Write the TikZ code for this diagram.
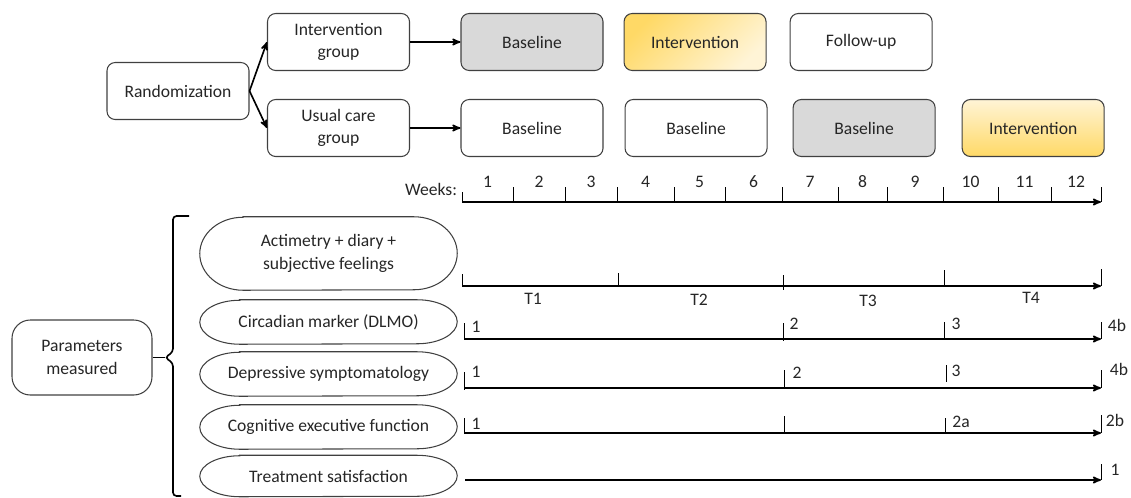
\documentclass[tikz,border=0pt]{standalone}
\usepackage{fontspec}
\setmainfont{Carlito}
\usetikzlibrary{positioning}
\usetikzlibrary{arrows}
\definecolor{boxgray}{HTML}{D9D9D9}
\definecolor{lineclr}{HTML}{404040}
\definecolor{txtclr}{HTML}{262626}
\definecolor{ydark}{HTML}{FFD966}
\definecolor{ylight}{HTML}{FFF4D6}

\begin{document}
\begin{tikzpicture}[x=0.03cm,y=-0.03cm,>=stealth',
                font=\fontsize{15}{19}\selectfont,text=txtclr,
                phase/.style={rectangle,rounded corners=7pt,draw=lineclr,line width=0.9pt,
                  minimum width=4.26cm,minimum height=1.71cm,inner sep=0pt,align=center},
                oval/.style={rectangle,minimum width=7.71cm,minimum height=1.32cm,inner sep=0pt,align=center},
                rim/.style={draw=lineclr,line width=0.9pt},
                param/.style={rectangle,rounded corners=0.55cm,draw=lineclr,line width=0.9pt,
                  minimum width=4.2cm,minimum height=2.25cm,align=center},
                flow/.style={->,line width=1.4pt},
                timeline/.style={->,line width=1.4pt},
                tickmark/.style={line width=0.7pt},
                lbl/.style={inner sep=0pt}]

  \useasboundingbox (0,0) rectangle (1131,497);

  % groups
  \node[phase] (rand) at (178,91) {Randomization};
  \node[phase] (igroup) at (338.5,42) {Intervention\\group};
  \node[phase] (ugroup) at (338.5,128) {Usual care\\group};

  % intervention group row
  \node[phase,fill=boxgray] (ibase) at (532,42) {Baseline};
  \node[phase,top color=ydark,bottom color=ylight,shading angle=45] (iint) [right=0.6cm of ibase] {Intervention};
  \node[phase] (ifollow) [right=0.69cm of iint] {Follow-up};

  % usual care row
  \node[phase] (ubase1) at (532,128) {Baseline};
  \node[phase] (ubase2) [right=0.63cm of ubase1] {Baseline};
  \node[phase,fill=boxgray] (ubase3) [right=0.75cm of ubase2] {Baseline};
  \node[phase,top color=ylight,bottom color=ydark] (uint) [right=0.78cm of ubase3] {Intervention};

  \path
    (rand.east) edge [flow] (igroup.west)
    (rand.east) edge [flow] (ugroup.west)
    (igroup) edge [flow] (ibase)
    (ugroup) edge [flow] (ubase1);

  % weeks
  \node[lbl] (weeks) at (431,189) {Weeks:};
  \coordinate (wstart) at (462,202);
  \coordinate (wend) at (1101,202);
  \draw[timeline] (wstart) -- (wend);
  \draw[tickmark] (462,192) -- (462,202);
  \foreach \a/\b/\n in {462/513/1,513/565/2,565/617/3,617/674/4,674/725/5,725/782/6,
                        782/838/7,838/887/8,887/943/9,943/998/10,998/1051/11,1051/1101/12} {
    \draw[tickmark] (\b,187) -- (\b,202);
    \node[lbl] (wk\n) at ({(\a+\b)/2},182) {\n};
  }

  % parameters
  \node[param] (params) at (82,357.5) {Parameters\\measured};
  \node[oval,minimum height=2.19cm] (acti) at (328.5,253.5) {Actimetry + diary +\\subjective feelings};
  \node[oval] (circ) at (328.5,322) {Circadian marker (DLMO)};
  \node[oval] (depr) at (328.5,374) {Depressive symptomatology};
  \node[oval] (cogn) at (328.5,427) {Cognitive executive function};
  \node[oval,minimum height=1.23cm] (treat) at (328.5,476) {Treatment satisfaction};
  \foreach \n/\rx/\ry in {acti/1.3cm/1.095cm,circ/1.2cm/0.66cm,depr/1.2cm/0.66cm,
                          cogn/1.2cm/0.66cm,treat/1.2cm/0.615cm}
    \draw[rim] ([xshift=\rx]\n.north west) -- ([xshift=-\rx]\n.north east)
      arc[start angle=90,end angle=-90,x radius=\rx,y radius=\ry]
      -- ([xshift=\rx]\n.south west)
      arc[start angle=270,end angle=90,x radius=\rx,y radius=\ry] -- cycle;

  \coordinate (btip) at (165,357.5);
  \draw[line width=1.4pt,rounded corners=3pt] (189,216) -- (173,216) -- (173,352) -- (btip)
    -- (173,363) -- (173,496) -- (181,496);
  \draw[line width=1.4pt] (params.east) -- (btip);

  % actimetry periods
  \coordinate (tstart) at (462,286);
  \coordinate (tend) at (1101,286);
  \draw[timeline] (tstart) -- (tend);
  \foreach \x/\t/\b in {462/274/286,618/273/287,783/275/290,944/270/286,1101/269/286}
    \draw[tickmark] (\x,\t) -- (\x,\b);
  \node[lbl] (t1) at (533,299) {T1};
  \node[lbl] (t2) at (699,300) {T2};
  \node[lbl] (t3) at (868,301) {T3};
  \node[lbl] (t4) at (1031,298) {T4};

  % circadian marker
  \coordinate (cstart) at (464,339);
  \coordinate (cend) at (1101,339);
  \draw[timeline] (cstart) -- (cend);
  \foreach \x/\t/\b in {464/323/339,783/323/341,944/322/338,1101/322/339}
    \draw[tickmark] (\x,\t) -- (\x,\b);
  \node[lbl] (c1) at (476,327) {1};
  \node[lbl] (c2) at (794,324) {2};
  \node[lbl] (c3) at (956,324) {3};
  \node[lbl] (c4) at (1117,325) {4b};

  % depressive symptomatology
  \coordinate (dstart) at (464,388);
  \coordinate (dend) at (1101,388);
  \draw[timeline] (dstart) -- (dend);
  \foreach \x/\t/\b in {464/372/390,784/370/388,946/365/382,1101/370/388}
    \draw[tickmark] (\x,\t) -- (\x,\b);
  \node[lbl] (d1) at (476,372) {1};
  \node[lbl] (d2) at (797,373) {2};
  \node[lbl] (d3) at (956,371) {3};
  \node[lbl] (d4) at (1119,369) {4b};

  % cognitive executive function
  \coordinate (gstart) at (464,433);
  \coordinate (gend) at (1101,433);
  \draw[timeline] (gstart) -- (gend);
  \foreach \x/\t/\b in {464/418/433,784/416/433,945/418/434,1101/415/433}
    \draw[tickmark] (\x,\t) -- (\x,\b);
  \node[lbl] (g1) at (476,424) {1};
  \node[lbl] (g2) at (961,422) {2a};
  \node[lbl] (g3) at (1115,420) {2b};

  % treatment satisfaction
  \coordinate (sstart) at (465,480);
  \coordinate (send) at (1101,480);
  \draw[timeline] (sstart) -- (send);
  \draw[tickmark] (1101,464) -- (1101,480);
  \node[lbl] (s1) at (1115,470) {1};

\end{tikzpicture}
\end{document}
